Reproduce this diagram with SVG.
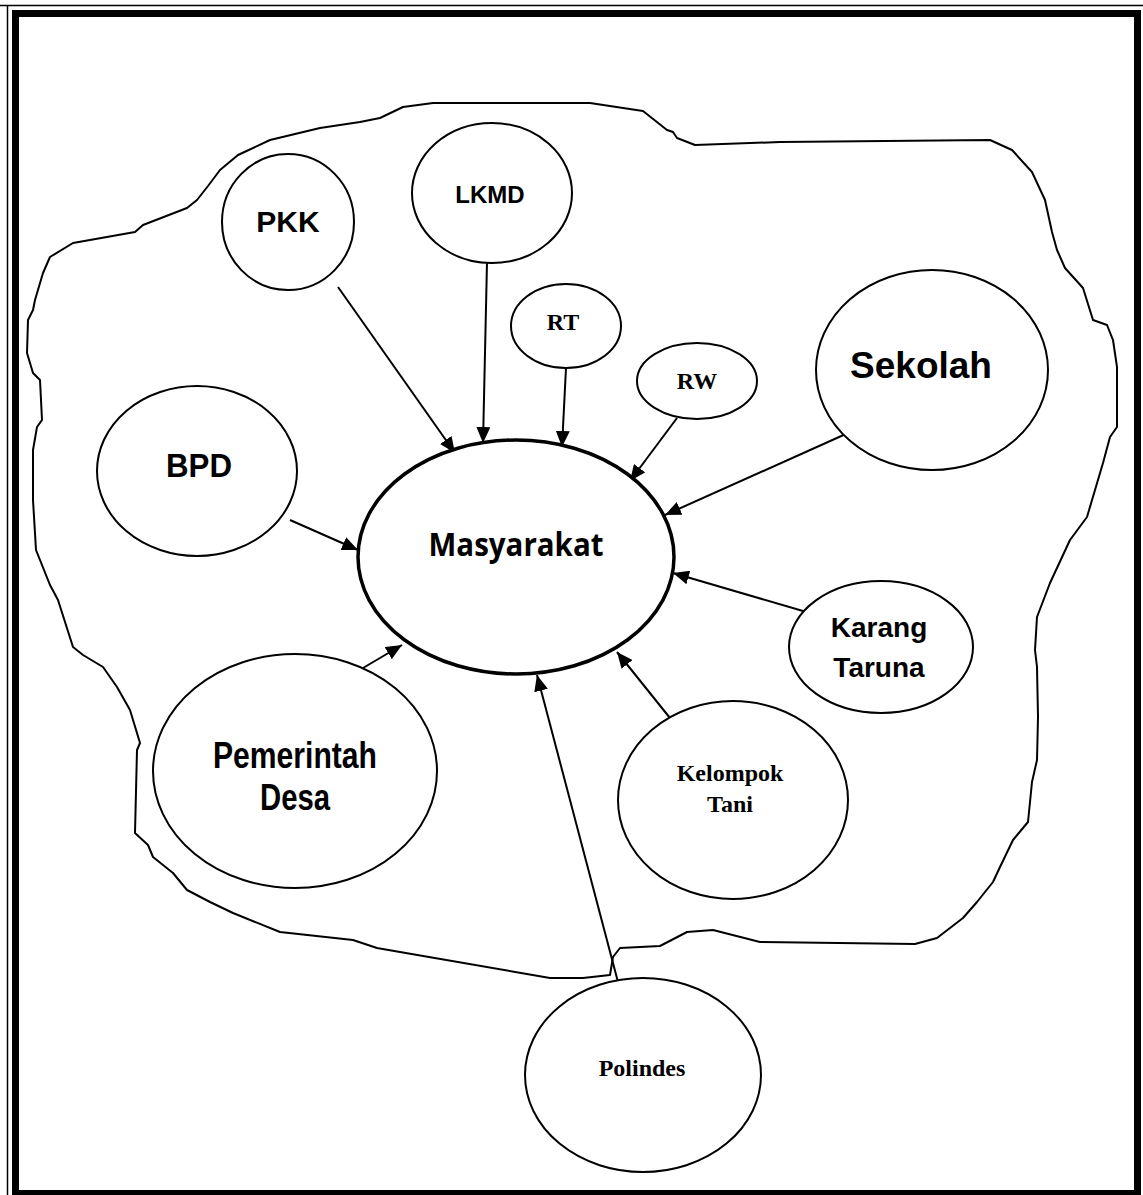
<svg xmlns="http://www.w3.org/2000/svg" width="1143" height="1195" viewBox="0 0 1143 1195">
<defs>
<marker id="ah" markerUnits="userSpaceOnUse" markerWidth="18" markerHeight="14" refX="16" refY="7" orient="auto">
<path d="M0,0 L16,7 L0,14 Z" fill="#000"/>
</marker>
</defs>
<style>
.n{fill:#fff;stroke:#000;stroke-width:2}
.m{fill:#fff;stroke:#000;stroke-width:3.5}
.c line{stroke:#000;stroke-width:2;marker-end:url(#ah)}
.s{font-family:"Liberation Sans",Arial,sans-serif;font-weight:bold;text-anchor:middle;fill:#000}
.t{font-family:"Liberation Serif","Times New Roman",serif;font-weight:bold;text-anchor:middle;fill:#000}
.h{font-family:"Open Sans","Noto Sans",sans-serif;font-weight:bold;text-anchor:middle;fill:#000}
</style>
<rect width="1143" height="1195" fill="#fff"/>
<g id="frame" fill="none">
<line x1="0" y1="5.5" x2="1143" y2="5.5" stroke="#000" stroke-width="1.5"/>
<line x1="7.5" y1="5" x2="7.5" y2="1195" stroke="#000" stroke-width="1.5"/>
<rect x="15.5" y="13.5" width="1122" height="1180" stroke="#000" stroke-width="7"/>
</g>
<path id="boundary" fill="none" stroke="#000" stroke-width="2" stroke-linejoin="round" d="M50,257 L73,243 L135,232 L143,225 L187,208 L197,200 L208,186 L220,170 L238,155 L270,140 L320,128 L360,122 L380,118 L403,107 L433,103 L590,103 L643,111 L667,130 L673,132 L677,138 L695,145 L780,142 L990,140 L1012,150 L1032,172 L1045,200 L1052,232 L1057,250 L1065,268 L1083,288 L1093,320 L1107,325 L1113,340 L1117,367 L1117,427 L1110,437 L1103,463 L1087,517 L1070,540 L1050,583 L1037,617 L1035,650 L1037,667 L1038,717 L1037,760 L1032,782 L1028,822 L1013,840 L1000,867 L993,882 L977,902 L963,918 L950,928 L937,938 L915,944 L760,942 L713,930 L687,932 L660,946 L620,948 L613,957 L610,975 L583,978 L550,978 L400,952 L377,948 L353,940 L280,932 L233,913 L210,902 L187,890 L173,873 L153,857 L148,845 L135,833 L137,750 L140,743 L130,710 L117,687 L103,667 L83,655 L73,647 L58,600 L50,585 L36,550 L33,500 L33,450 L37,427 L42,420 L40,380 L33,373 L27,353 L28,320 L33,310 L35,300 L43,273 Z"/>
<g id="connectors" class="c">
<line x1="338" y1="287" x2="455" y2="453"/>
<line x1="487" y1="262" x2="483" y2="443"/>
<line x1="566" y1="368" x2="562" y2="447"/>
<line x1="677" y1="418" x2="630" y2="481"/>
<line x1="848" y1="433" x2="665" y2="515"/>
<line x1="803" y1="611" x2="673" y2="573"/>
<line x1="678" y1="728" x2="617" y2="652"/>
<line x1="618" y1="982" x2="537" y2="675"/>
<line x1="363" y1="668" x2="402" y2="645"/>
<line x1="290" y1="520" x2="358" y2="550"/>
</g>
<g id="pkk"><ellipse class="n" cx="288" cy="222" rx="66" ry="68"/><text class="s" x="288" y="232" font-size="30">PKK</text></g>
<g id="lkmd"><ellipse class="n" cx="492" cy="193" rx="80" ry="70"/><text class="s" x="490" y="203" font-size="24">LKMD</text></g>
<g id="rt"><ellipse class="n" cx="566" cy="326" rx="55" ry="42"/><text class="t" x="563" y="330" font-size="24">RT</text></g>
<g id="rw"><ellipse class="n" cx="697" cy="381" rx="60" ry="38"/><text class="t" x="697" y="389" font-size="24">RW</text></g>
<g id="sekolah"><ellipse class="n" cx="932" cy="370" rx="116" ry="100"/><text class="s" x="921" y="378" font-size="37">Sekolah</text></g>
<g id="bpd"><ellipse class="n" cx="197" cy="471" rx="100" ry="85"/><text class="s" x="199" y="477" font-size="34" textLength="66" lengthAdjust="spacingAndGlyphs">BPD</text></g>
<g id="masyarakat"><ellipse class="m" cx="516" cy="557" rx="158" ry="117"/><text class="h" x="516" y="556" font-size="32" textLength="175" lengthAdjust="spacingAndGlyphs">Masyarakat</text></g>
<g id="karang"><ellipse class="n" cx="881" cy="647" rx="92" ry="66"/><text class="s" x="879" y="637" font-size="28">Karang</text><text class="s" x="879" y="677" font-size="28">Taruna</text></g>
<g id="kelompok"><ellipse class="n" cx="733" cy="800" rx="115" ry="99"/><text class="t" x="730" y="781" font-size="24">Kelompok</text><text class="t" x="730" y="812" font-size="24">Tani</text></g>
<g id="pemerintah"><ellipse class="n" cx="295" cy="771" rx="142" ry="117"/><text class="s" x="295" y="768" font-size="36" textLength="164" lengthAdjust="spacingAndGlyphs">Pemerintah</text><text class="s" x="295" y="810" font-size="36" textLength="70" lengthAdjust="spacingAndGlyphs">Desa</text></g>
<g id="polindes"><ellipse class="n" cx="643" cy="1075" rx="118" ry="97"/><text class="t" x="642" y="1076" font-size="24">Polindes</text></g>
</svg>
